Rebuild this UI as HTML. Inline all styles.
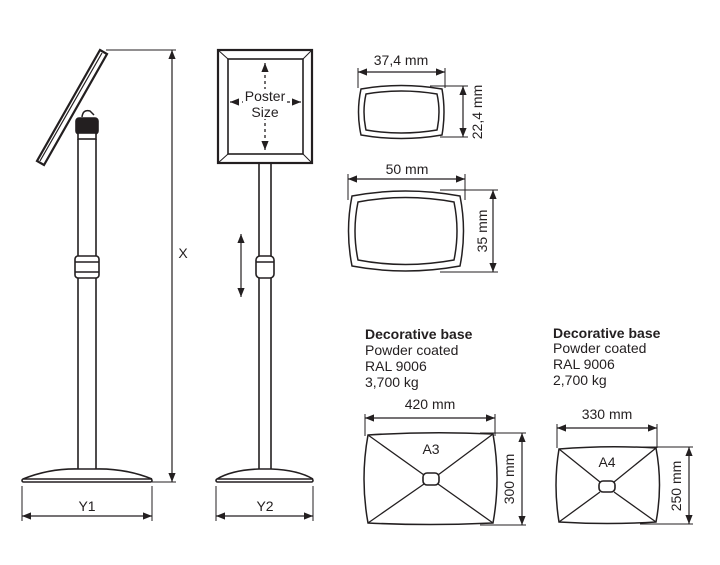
<!DOCTYPE html>
<html><head><meta charset="utf-8"><style>
html,body{margin:0;padding:0;background:#fff;}
svg{display:block;}
text{font-family:"Liberation Sans",sans-serif;fill:#231f20;}
</style></head><body>
<svg width="720" height="565" viewBox="0 0 720 565" xmlns="http://www.w3.org/2000/svg">
<defs>
<marker id="a" viewBox="0 0 10 10" refX="10" refY="5" markerWidth="9" markerHeight="9" markerUnits="userSpaceOnUse" orient="auto-start-reverse"><path d="M0,1 L10,5 L0,9 Z" fill="#231f20"/></marker>
</defs>
<g stroke="#231f20" fill="none" stroke-width="1.6">
<path d="M100,50 L107,54 L44,165 L37,161 Z" fill="#fff" stroke-width="2.2"/>
<path d="M102,53 L40,161" stroke-width="1.2"/>
<path d="M82,117 Q83,109 90,111 L94,115" stroke-width="1.5"/>
<rect x="76" y="118" width="22" height="16" rx="3" fill="#231f20"/>
<rect x="78" y="133" width="18" height="6" fill="#fff"/>
<line x1="78" y1="139" x2="78" y2="470"/>
<line x1="96" y1="139" x2="96" y2="470"/>
<rect x="75" y="256" width="24" height="22" rx="3" fill="#fff"/>
<line x1="75" y1="262" x2="99" y2="262"/>
<line x1="75" y1="272" x2="99" y2="272"/>
<path d="M23,479 Q50,468 80,469 L94,469 Q125,468 152,479" fill="#fff"/>
<rect x="22" y="479" width="130" height="3" rx="1.5" fill="#fff"/>
<line x1="106" y1="50" x2="176" y2="50" stroke-width="1"/>
<line x1="152" y1="482" x2="176" y2="482" stroke-width="1"/>
<line x1="172" y1="50" x2="172" y2="482" stroke-width="1.2" marker-start="url(#a)" marker-end="url(#a)"/>
<line x1="22" y1="486" x2="22" y2="521" stroke-width="1"/>
<line x1="152" y1="486" x2="152" y2="521" stroke-width="1"/>
<line x1="22" y1="516" x2="152" y2="516" stroke-width="1.2" marker-start="url(#a)" marker-end="url(#a)"/>
<rect x="218" y="50" width="94" height="113" fill="#fff" stroke-width="2.2"/>
<rect x="228" y="59" width="75" height="95" stroke-width="1.6"/>
<path d="M218,50 L228,59 M312,50 L303,59 M218,163 L228,154 M312,163 L303,154" stroke-width="1"/>
<line x1="265" y1="63" x2="265" y2="150" stroke-width="1.3" stroke-dasharray="3,3" marker-start="url(#a)" marker-end="url(#a)"/>
<line x1="230" y1="102" x2="243" y2="102" stroke-width="1.3" stroke-dasharray="3,3" marker-start="url(#a)"/>
<line x1="287" y1="102" x2="301" y2="102" stroke-width="1.3" stroke-dasharray="3,3" marker-end="url(#a)"/>
<line x1="259" y1="163" x2="259" y2="470"/>
<line x1="271" y1="163" x2="271" y2="470"/>
<rect x="256" y="256" width="18" height="22" rx="4" fill="#fff"/>
<line x1="256" y1="262" x2="274" y2="262"/>
<path d="M217,479 Q232,470 259,469 L271,469 Q298,470 313,479" fill="#fff"/>
<rect x="216" y="479" width="97" height="3" rx="1.5" fill="#fff"/>
<line x1="241" y1="234" x2="241" y2="297" stroke-width="1.2" marker-start="url(#a)" marker-end="url(#a)"/>
<line x1="216" y1="486" x2="216" y2="521" stroke-width="1"/>
<line x1="313" y1="486" x2="313" y2="521" stroke-width="1"/>
<line x1="216" y1="516" x2="313" y2="516" stroke-width="1.2" marker-start="url(#a)" marker-end="url(#a)"/>
<path d="M361,89 Q401,82 442,89 Q446,112 442,135 Q401,142 361,135 Q356,112 361,89 Z" stroke-width="1.5"/>
<path d="M366,94 Q401,88 437,94 Q441,112 437,130 Q401,136 366,130 Q362,112 366,94 Z" stroke-width="1.5"/>
<line x1="358" y1="68" x2="358" y2="88" stroke-width="1"/>
<line x1="445" y1="68" x2="445" y2="88" stroke-width="1"/>
<line x1="358" y1="72" x2="445" y2="72" stroke-width="1.2" marker-start="url(#a)" marker-end="url(#a)"/>
<line x1="430" y1="86" x2="468" y2="86" stroke-width="1"/>
<line x1="440" y1="137" x2="468" y2="137" stroke-width="1"/>
<line x1="463" y1="86" x2="463" y2="137" stroke-width="1.2" marker-start="url(#a)" marker-end="url(#a)"/>
<path d="M352,196 Q405,186 460,196 Q467,231 460,266 Q405,276 352,266 Q345,231 352,196 Z" stroke-width="1.5"/>
<path d="M358,202 Q405,193 454,202 Q460,231 454,260 Q405,269 358,260 Q352,231 358,202 Z" stroke-width="1.5"/>
<line x1="348" y1="174" x2="348" y2="200" stroke-width="1"/>
<line x1="465" y1="174" x2="465" y2="200" stroke-width="1"/>
<line x1="348" y1="179" x2="465" y2="179" stroke-width="1.2" marker-start="url(#a)" marker-end="url(#a)"/>
<line x1="440" y1="190" x2="498" y2="190" stroke-width="1"/>
<line x1="440" y1="272" x2="498" y2="272" stroke-width="1"/>
<line x1="493" y1="190" x2="493" y2="272" stroke-width="1.2" marker-start="url(#a)" marker-end="url(#a)"/>
<path d="M368,435 Q430,431 493,434 Q501,479 493,523 Q430,526 368,523 Q360,479 368,435 Z" stroke-width="1.5"/>
<path d="M368,435 L424,475 M493,434 L438,475 M368,523 L424,484 M493,523 L438,484" stroke-width="1.3"/>
<rect x="423" y="473" width="16" height="12" rx="4" stroke-width="1.6"/>
<line x1="365" y1="414" x2="365" y2="436" stroke-width="1"/>
<line x1="495" y1="414" x2="495" y2="436" stroke-width="1"/>
<line x1="365" y1="418" x2="495" y2="418" stroke-width="1.2" marker-start="url(#a)" marker-end="url(#a)"/>
<line x1="480" y1="433" x2="526" y2="433" stroke-width="1"/>
<line x1="480" y1="525" x2="526" y2="525" stroke-width="1"/>
<line x1="522" y1="433" x2="522" y2="525" stroke-width="1.2" marker-start="url(#a)" marker-end="url(#a)"/>
<path d="M559,449 Q607,445 656,448 Q663,485 656,522 Q607,525 559,522 Q553,485 559,449 Z" stroke-width="1.5"/>
<path d="M559,449 L600,482 M656,448 L614,482 M559,522 L600,492 M656,522 L614,492" stroke-width="1.3"/>
<rect x="599" y="481" width="16" height="11" rx="4" stroke-width="1.6"/>
<line x1="557" y1="424" x2="557" y2="448" stroke-width="1"/>
<line x1="657" y1="424" x2="657" y2="448" stroke-width="1"/>
<line x1="557" y1="428" x2="657" y2="428" stroke-width="1.2" marker-start="url(#a)" marker-end="url(#a)"/>
<line x1="640" y1="447" x2="693" y2="447" stroke-width="1"/>
<line x1="640" y1="524" x2="693" y2="524" stroke-width="1"/>
<line x1="689" y1="447" x2="689" y2="524" stroke-width="1.2" marker-start="url(#a)" marker-end="url(#a)"/>
</g>
<g font-size="14">
<text x="183" y="258" text-anchor="middle">X</text>
<text x="87" y="511" text-anchor="middle">Y1</text>
<text x="265" y="511" text-anchor="middle">Y2</text>
<rect x="244" y="89" width="42" height="30" fill="#fff"/>
<text x="265" y="101" text-anchor="middle">Poster</text>
<text x="265" y="117" text-anchor="middle">Size</text>
<text x="401" y="65" text-anchor="middle">37,4 mm</text>
<text x="407" y="174" text-anchor="middle">50 mm</text>
<text transform="translate(482,112) rotate(-90)" text-anchor="middle">22,4 mm</text>
<text transform="translate(487,231) rotate(-90)" text-anchor="middle">35 mm</text>
<text x="430" y="409" text-anchor="middle">420 mm</text>
<text x="607" y="419" text-anchor="middle">330 mm</text>
<text x="431" y="454" text-anchor="middle">A3</text>
<text x="607" y="467" text-anchor="middle">A4</text>
<text transform="translate(514,479) rotate(-90)" text-anchor="middle">300 mm</text>
<text transform="translate(681,486) rotate(-90)" text-anchor="middle">250 mm</text>
<text x="365" y="339" font-weight="bold">Decorative base</text>
<text x="365" y="355">Powder coated</text>
<text x="365" y="371">RAL 9006</text>
<text x="365" y="387">3,700 kg</text>
<text x="553" y="338" font-weight="bold">Decorative base</text>
<text x="553" y="353">Powder coated</text>
<text x="553" y="369">RAL 9006</text>
<text x="553" y="385">2,700 kg</text>
</g>
</svg>
</body></html>
